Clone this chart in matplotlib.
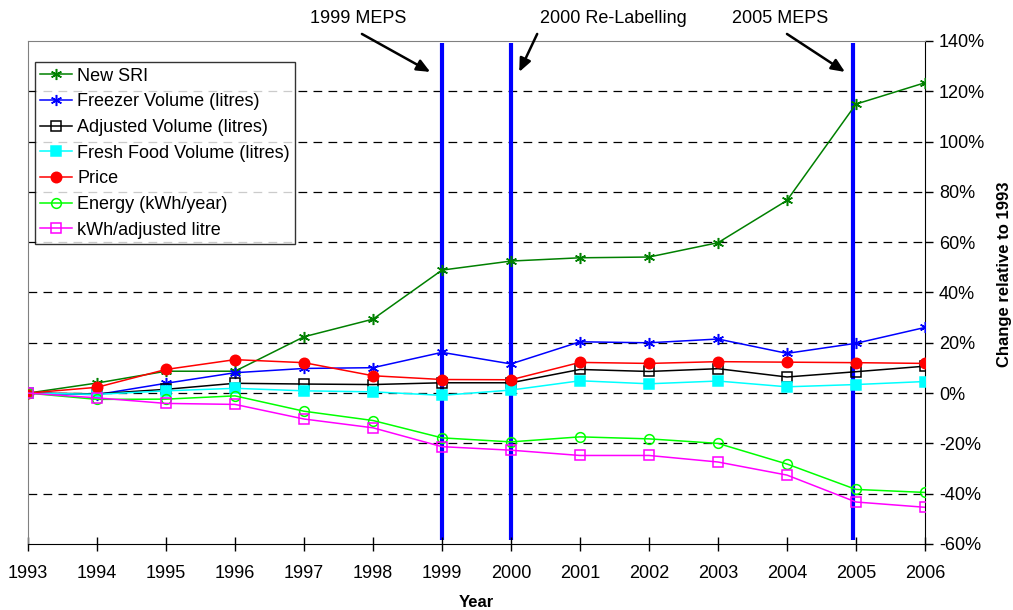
import numpy as np
import matplotlib
matplotlib.use("Agg")
import matplotlib.pyplot as plt

plt.rcParams["font.family"] = ["Liberation Sans", "DejaVu Sans"]

# ---------------------------------------------------------------------------
# Data: percentage change relative to 1993
# ---------------------------------------------------------------------------
years = list(range(1993, 2007))

new_sri = [0, 4.0, 8.7, 8.7, 22.4, 29.4, 48.9, 52.5, 53.8, 54.1, 59.8, 76.6, 114.9, 123.4]
freezer_vol = [0, -0.6, 3.9, 8.1, 9.8, 10.1, 16.2, 11.6, 20.4, 20.0, 21.5, 15.8, 19.8, 26.1]
adjusted_vol = [0, -0.3, 1.5, 3.9, 3.6, 3.4, 4.1, 4.1, 9.4, 8.6, 9.7, 6.4, 8.5, 10.7]
fresh_food_vol = [0, -0.5, 0.9, 1.9, 0.9, 0.5, -0.9, 1.2, 4.9, 3.7, 4.8, 2.5, 3.4, 4.6]
price = [0, 2.3, 9.4, 13.3, 12.1, 6.9, 5.4, 5.3, 12.2, 11.8, 12.5, 12.3, 12.1, 11.8]
energy = [0, -2.5, -2.4, -1.1, -7.2, -10.9, -17.8, -19.4, -17.4, -18.2, -20.0, -28.2, -38.3, -39.5]
kwh_per_litre = [0, -1.9, -4.1, -4.5, -10.3, -13.8, -21.3, -22.7, -24.8, -24.8, -27.4, -32.6, -43.3, -45.4]

# policy events: (year position, label)
event_years = [1999, 2000, 2004.95]
event_labels = ["1999 MEPS", "2000 Re-Labelling", "2005 MEPS"]

yticks = list(range(-60, 141, 20))

fig = plt.figure(figsize=(10.13, 6.10), dpi=100)
ax = fig.add_axes([0.0276, 0.1082, 0.8855, 0.8246])

# event markers sit behind the series
for ex in event_years:
    ax.plot([ex, ex], [-58.5, 139.2], color="#0000FF", lw=3.0, zorder=1,
            solid_capstyle="butt")

star = (6, 2, 0)
series = [
    (new_sri, "New SRI", "#008000", star, "#008000", 8),
    (freezer_vol, "Freezer Volume (litres)", "#0000FF", star, "#0000FF", 8),
    (adjusted_vol, "Adjusted Volume (litres)", "#000000", "s", "none", 6.5),
    (fresh_food_vol, "Fresh Food Volume (litres)", "#00FFFF", "s", "#00FFFF", 6.5),
    (price, "Price", "#FF0000", "o", "#FF0000", 7.5),
    (energy, "Energy (kWh/year)", "#00FF00", "o", "none", 7),
    (kwh_per_litre, "kWh/adjusted litre", "#FF00FF", "s", "none", 6.5),
]
for vals, label, col, mk, fc, ms in series:
    ax.plot(years, vals, color=col, lw=1.1, marker=mk, markersize=ms,
            markerfacecolor=fc, markeredgecolor=col, markeredgewidth=1.1,
            label=label, zorder=3)

ax.set_xlim(1993, 2006)
ax.set_ylim(-60, 140)
ax.set_xticks(years)
ax.set_xticklabels([str(y) for y in years], fontsize=13)

ax.yaxis.tick_right()
ax.yaxis.set_label_position("right")
ax.set_yticks(yticks)
ax.set_yticklabels([f"{v}%" for v in yticks], fontsize=13)

for v in yticks[1:-1]:
    ax.axhline(v, color="#000000", lw=0.9, dashes=(7, 5), zorder=0.5)

ax.spines["left"].set_color("#808080")
ax.spines["top"].set_color("#808080")
ax.spines["right"].set_color("#000000")
ax.spines["bottom"].set_color("#000000")
ax.tick_params(axis="x", direction="inout", length=10, width=1, pad=10)
ax.tick_params(axis="y", direction="out", length=6, width=1, pad=4)

ax.set_xlabel("Year", fontsize=12, fontweight="bold", va="center")
ax.xaxis.set_label_coords(0.5, -0.117)
ax.set_ylabel("Change relative to 1993", fontsize=12, fontweight="bold",
              va="center")
ax.yaxis.set_label_coords(1.089, 0.537)

leg = ax.legend(loc="upper left", bbox_to_anchor=(0.0078, 0.958), fontsize=13,
                frameon=True, fancybox=False, edgecolor="#000000",
                borderpad=0.3, labelspacing=0.48, handlelength=1.75,
                handletextpad=0.3, borderaxespad=0)
leg.get_frame().set_linewidth(1.0)

# annotation arrows pointing at each event line
arrow_props = dict(arrowstyle="-|>,head_length=0.8,head_width=0.35",
                   color="#000000", lw=1.8, shrinkA=0, shrinkB=0)
text_pos = [(1997.78, 149.1), (2001.49, 149.1), (2003.9, 149.1)]
arrow_tail = [(1997.84, 142.8), (2000.38, 142.8), (2004.0, 142.8)]
arrow_head = [(1998.83, 127.7), (2000.12, 127.7), (2004.84, 127.7)]
for lbl, tp, tail, head in zip(event_labels, text_pos, arrow_tail, arrow_head):
    ax.text(tp[0], tp[1], lbl, fontsize=13, ha="center", va="center",
            clip_on=False)
    ax.annotate("", xy=head, xytext=tail, arrowprops=arrow_props,
                annotation_clip=False)

fig.savefig("out.png", dpi=100, facecolor="white")
